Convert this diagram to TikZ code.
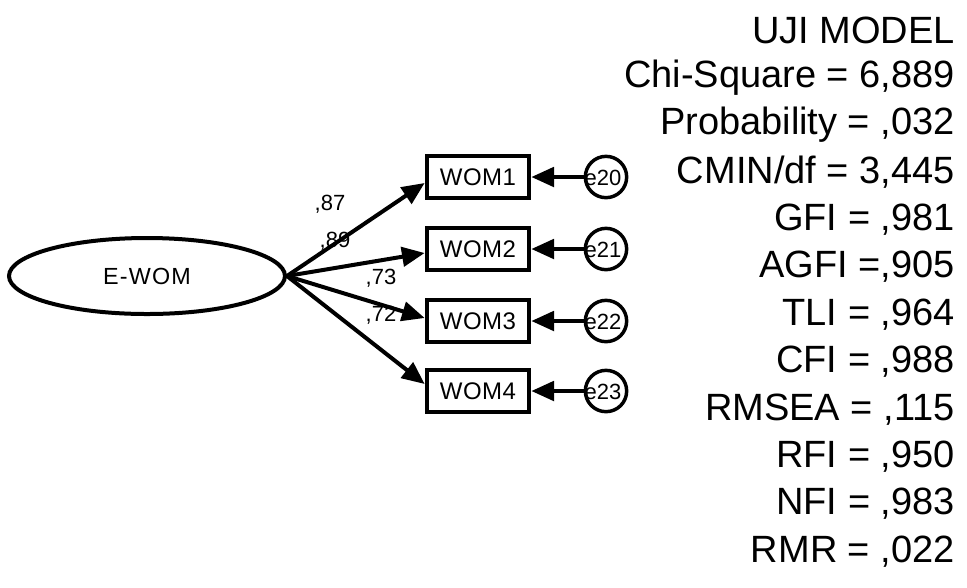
\documentclass[tikz,border=0pt]{standalone}
\usepackage{fontspec}
\setmainfont{Liberation Sans}
\usetikzlibrary{arrows.meta,shapes.geometric,calc}
\begin{document}
\begin{tikzpicture}[x=0.75pt,y=-0.75pt,
  lat/.style={ellipse,draw,line width=3pt,minimum width=207pt,minimum height=57pt,inner sep=0pt,font=\fontsize{17.5}{20}\selectfont\addfontfeature{LetterSpace=5}},
  obs/.style={rectangle,draw,line width=3pt,minimum width=77pt,minimum height=32pt,inner sep=0pt,font=\fontsize{18}{20}\selectfont\addfontfeature{LetterSpace=2}},
  errc/.style={circle,draw,line width=2.6pt,minimum size=31pt,inner sep=0pt},
  errt/.style={font=\fontsize{16.5}{18}\selectfont,inner sep=0pt},
  coef/.style={font=\fontsize{16.5}{18}\selectfont,inner sep=0pt},
  fitt/.style={anchor=east,inner sep=0pt,font=\fontsize{28.5}{30}\selectfont},
  arr/.style={line width=3pt,-{Triangle[length=17pt,width=14.5pt]}}]
\useasboundingbox (0,0) rectangle (967,587);
\node[lat] (ew) at (147,276) {E-WOM};
\node[obs] (w1) at (478,177) {WOM1};
\node[obs] (w2) at (478,249) {WOM2};
\node[obs] (w3) at (478,321) {WOM3};
\node[obs] (w4) at (478,391) {WOM4};
\node[errc] (e1) at (606,177) {};
\node[errc] (e2) at (606,249) {};
\node[errc] (e3) at (606,321) {};
\node[errc] (e4) at (606,391) {};
\node[errt] at ($(e1)+(-3,1)$) {e20};
\node[errt] at ($(e2)+(-3,1)$) {e21};
\node[errt] at ($(e3)+(-3,1)$) {e22};
\node[errt] at ($(e4)+(-3,1)$) {e23};
\draw[arr] (ew.east) -- ($(w1.west)+(0,6)$);
\draw[arr] (ew.east) -- ($(w2.west)+(0,4)$);
\draw[arr] (ew.east) -- ($(w3.west)+(0,-3)$);
\draw[arr] (ew.east) -- ($(w4.west)+(0,-7)$);
\draw[arr] (e1) -- (w1);
\draw[arr] (e2) -- (w2);
\draw[arr] (e3) -- (w3);
\draw[arr] (e4) -- (w4);
\node[coef] (c1) at (330,204) {,87};
\node[coef] (c2) at (335,241) {,89};
\node[coef] (c3) at (381,278) {,73};
\node[coef] (c4) at (381,315) {,72};
\node[fitt] (t1) at (955,30) {UJI MODEL};
\node[fitt] (t2) at (955,77.4) {Chi-Square = 6,889};
\node[fitt] (t3) at (955,124.8) {Probability = ,032};
\node[fitt] (t4) at (955,172.2) {CMIN/df = 3,445};
\node[fitt] (t5) at (955,219.6) {GFI = ,981};
\node[fitt] (t6) at (955,267) {AGFI =,905};
\node[fitt] (t7) at (955,314.4) {TLI = ,964};
\node[fitt] (t8) at (955,361.8) {CFI = ,988};
\node[fitt] (t9) at (955,409.2) {RMSEA = ,115};
\node[fitt] (t10) at (955,456.6) {RFI = ,950};
\node[fitt] (t11) at (955,504) {NFI = ,983};
\node[fitt] (t12) at (955,551.4) {RMR = ,022};
\end{tikzpicture}
\end{document}
